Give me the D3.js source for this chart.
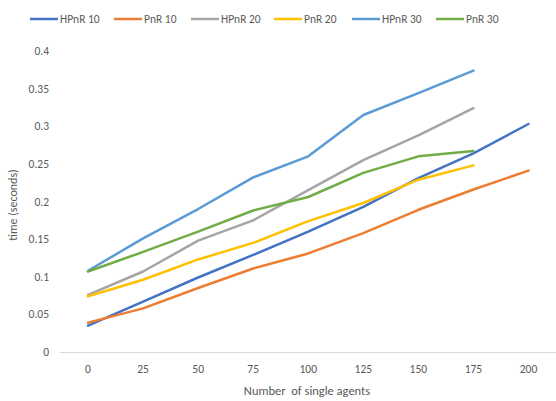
<!DOCTYPE html>
<html>
<head>
<meta charset="utf-8">
<script src="https://cdn.jsdelivr.net/npm/d3@7"></script>
<style>
  body { margin: 0; background: #fff; }
  text { font-family: Carlito, "Liberation Sans Narrow", "Open Sans", sans-serif; fill: #595959; }
</style>
</head>
<body>
<script>
var width = 556;
var height = 401;

// number of single agents
var agents = [0, 25, 50, 75, 100, 125, 150, 175, 200];
var yTicks = [0, 0.05, 0.1, 0.15, 0.2, 0.25, 0.3, 0.35, 0.4];

var seriesNames = ["HPnR 10", "PnR 10", "HPnR 20", "PnR 20", "HPnR 30", "PnR 30"];
var seriesColors = ["#4472C4", "#ED7D31", "#A5A5A5", "#FFC000", "#5B9BD5", "#70AD47"];

var hpnr10 = [0.035, 0.067, 0.099, 0.129, 0.160, 0.193, 0.231, 0.264, 0.303];
var pnr10  = [0.039, 0.058, 0.085, 0.111, 0.131, 0.158, 0.189, 0.216, 0.241];
var hpnr20 = [0.076, 0.107, 0.148, 0.175, 0.215, 0.255, 0.288, 0.324];
var pnr20  = [0.074, 0.096, 0.123, 0.145, 0.174, 0.198, 0.229, 0.248];
var hpnr30 = [0.108, 0.151, 0.190, 0.232, 0.260, 0.315, 0.344, 0.374];
var pnr30  = [0.107, 0.133, 0.160, 0.188, 0.206, 0.238, 0.260, 0.267];

var seriesValues = [hpnr10, pnr10, hpnr20, pnr20, hpnr30, pnr30];

var svg = d3.select("body")
            .append("svg")
            .attr("width", width)
            .attr("height", height);

var x = d3.scalePoint()
          .domain(agents)
          .range([60.5, 556])
          .padding(0.5);

var y = d3.scaleLinear()
          .domain([0, 0.4])
          .range([352, 51]);

// y tick labels, no axis line
svg.append("g")
   .selectAll("text")
   .data(yTicks)
   .enter().append("text")
   .attr("x", 49)
   .attr("y", function(d) { return y(d) + 4; })
   .attr("text-anchor", "end")
   .attr("font-size", 11.5)
   .text(function(d) { return d3.format("")(d); });

// baseline
svg.append("line")
   .attr("x1", 60).attr("x2", 556)
   .attr("y1", y(0) + 0.5).attr("y2", y(0) + 0.5)
   .attr("stroke", "#d9d9d9")
   .attr("stroke-width", 1);

// x tick labels
svg.append("g")
   .selectAll("text")
   .data(agents)
   .enter().append("text")
   .attr("x", function(d) { return x(d); })
   .attr("y", 373)
   .attr("text-anchor", "middle")
   .attr("font-size", 11.5)
   .text(function(d) { return d; });

// axis titles
svg.append("text")
   .attr("x", 307)
   .attr("y", 395)
   .attr("text-anchor", "middle")
   .attr("font-size", 12.5)
   .style("white-space", "pre")
   .text("Number  of single agents");

svg.append("text")
   .attr("transform", "translate(17,205) rotate(-90)")
   .attr("text-anchor", "middle")
   .attr("font-size", 12)
   .text("time (seconds)");

var line = d3.line()
             .x(function(d, i) { return x(agents[i]); })
             .y(function(d) { return y(d); });

svg.append("g")
   .selectAll("path")
   .data(seriesValues)
   .enter().append("path")
   .attr("d", line)
   .attr("fill", "none")
   .attr("stroke", function(d, i) { return seriesColors[i]; })
   .attr("stroke-width", 2.5)
   .attr("stroke-linejoin", "round")
   .attr("stroke-linecap", "round");

// legend
var legendX = [30, 114, 191, 274, 352, 436];
var legend = svg.append("g")
                .selectAll("g")
                .data(seriesNames)
                .enter().append("g")
                .attr("transform", function(d, i) { return "translate(" + legendX[i] + ",19)"; });

legend.append("line")
      .attr("x1", 0).attr("x2", 28)
      .attr("y1", 0).attr("y2", 0)
      .attr("stroke", function(d, i) { return seriesColors[i]; })
      .attr("stroke-width", 2.5);

legend.append("text")
      .attr("x", 30)
      .attr("y", 4)
      .attr("font-size", 11.5)
      .text(function(d) { return d; });
</script>
</body>
</html>
